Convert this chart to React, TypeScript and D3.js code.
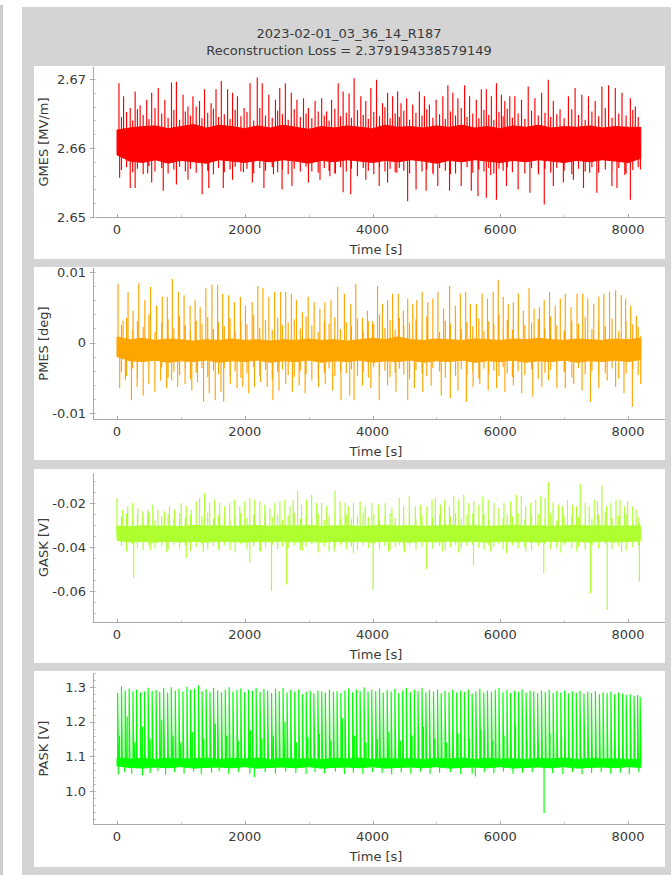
import React from 'react';
import * as d3 from 'd3';

// ---------------- DATA ----------------
const title = '2023-02-01_03_36_14_R187';
const subtitle = 'Reconstruction Loss = 2.379194338579149';
const xTicks = [0, 2000, 4000, 6000, 8000];
const xMinorTicks = [1000, 3000, 5000, 7000];
const xLabel = 'Time [s]';

// times of the smaller oscillations between the large excursions (shared by GMES, PMES, GASK)
const midTimes = [
  70,150,245,320,410,500,595,700,800,890,
  980,1070,1150,1240,1330,1420,1510,1590,1680,1770,
  1850,1940,2035,2140,2235,2325,2430,2515,2590,2680,
  2775,2870,2960,3050,3150,3245,3320,3410,3500,3590,
  3670,3765,3855,3935,4020,4110,4195,4275,4355,4420,
  4490,4580,4680,4775,4850,4945,5050,5140,5220,5300,
  5390,5480,5570,5665,5745,5820,5900,5980,6045,6110,
  6190,6280,6385,6490,6595,6700,6790,6885,7000,7120,
  7225,7330,7435,7540,7645,7750,7855,7970,8075,8160,
];

// GMES [MV/m]
const gmesTicks = [2.65, 2.66, 2.67];
const gmesUp: [number, number][] = [
  [31,2.6694],[103,2.6675],[207,2.6658],[284,2.6682],[362,2.6662],[465,2.6670],[543,2.6680],[646,2.6687],[749,2.6670],[853,2.6695],
  [930,2.6696],[1034,2.6677],[1111,2.6660],[1189,2.6675],[1292,2.6668],[1370,2.6685],[1473,2.6665],[1550,2.6685],[1633,2.6697],[1731,2.6685],
  [1809,2.6680],[1886,2.6675],[1990,2.6658],[2083,2.6694],[2196,2.6702],[2274,2.6694],[2377,2.6677],[2481,2.6670],[2548,2.6687],[2636,2.6694],
  [2729,2.6680],[2817,2.6670],[2920,2.6672],[2997,2.6658],[3101,2.6668],[3204,2.6672],[3282,2.6653],[3359,2.6670],[3463,2.6694],[3540,2.6682],
  [3633,2.6679],[3712,2.6701],[3817,2.6675],[3895,2.6668],[3974,2.6687],[4063,2.6699],[4157,2.6665],[4236,2.6680],[4315,2.6675],[4393,2.6682],
  [4446,2.6665],[4535,2.6672],[4629,2.6663],[4734,2.6682],[4813,2.6675],[4891,2.6663],[4996,2.6670],[5101,2.6675],[5180,2.6691],[5258,2.6680],
  [5337,2.6672],[5442,2.6691],[5520,2.6675],[5625,2.6670],[5704,2.6685],[5782,2.6685],[5861,2.6675],[5940,2.6694],[6018,2.6677],[6071,2.6668],
  [6149,2.6675],[6228,2.6675],[6333,2.6670],[6438,2.6689],[6543,2.6672],[6647,2.6680],[6752,2.6699],[6831,2.6668],[6936,2.6656],[7067,2.6675],
  [7172,2.6687],[7277,2.6677],[7381,2.6675],[7486,2.6668],[7591,2.6689],[7696,2.6691],[7801,2.6687],[7906,2.6680],[8037,2.6672],[8115,2.6660],
];
const gmesDown: [number, number][] = [
  [41,2.6557],[207,2.6542],[284,2.6542],[480,2.6563],[543,2.6550],[724,2.6538],[930,2.6547],[1111,2.6554],[1240,2.6565],[1333,2.6533],
  [1437,2.6542],[1664,2.6542],[1809,2.6554],[1980,2.6565],[2119,2.6550],[2300,2.6542],[2450,2.6562],[2584,2.6540],[2739,2.6545],[2997,2.6550],
  [3050,2.6566],[3178,2.6554],[3333,2.6559],[3420,2.6563],[3540,2.6536],[3659,2.6533],[3764,2.6559],[3895,2.6554],[4105,2.6545],[4236,2.6550],
  [4380,2.6564],[4550,2.6523],[4682,2.6540],[4839,2.6538],[4950,2.6562],[5022,2.6545],[5206,2.6538],[5300,2.6563],[5389,2.6545],[5547,2.6538],
  [5651,2.6530],[5782,2.6528],[5850,2.6561],[5940,2.6525],[6097,2.6545],[6280,2.6540],[6464,2.6535],[6600,2.6562],[6689,2.6518],[6831,2.6545],
  [6988,2.6550],[7146,2.6554],[7303,2.6542],[7400,2.6564],[7512,2.6535],[7748,2.6545],[7827,2.6542],[7950,2.6561],[8037,2.6525],[8194,2.6569],
];
const gmesMidHi = [
  2.6645,2.6652,2.6640,2.6656,2.6648,2.6642,2.6658,2.6650,2.6644,2.6655,
  2.6641,2.6653,2.6647,2.6660,2.6643,2.6651,2.6657,2.6645,2.6649,2.6642,
  2.6655,2.6646,2.6652,2.6640,2.6658,2.6647,2.6644,2.6654,2.6649,2.6641,
  2.6656,2.6645,2.6650,2.6643,2.6653,2.6647,2.6640,2.6657,2.6646,2.6651,
  2.6644,2.6655,2.6648,2.6642,2.6652,2.6646,2.6659,2.6643,2.6650,2.6645,
  2.6654,2.6641,2.6651,2.6647,2.6656,2.6644,2.6649,2.6642,2.6653,2.6647,
  2.6658,2.6645,2.6650,2.6643,2.6655,2.6648,2.6641,2.6652,2.6646,2.6657,
  2.6644,2.6650,2.6642,2.6654,2.6647,2.6651,2.6645,2.6649,2.6643,2.6656,
  2.6648,2.6641,2.6653,2.6646,2.6658,2.6644,2.6650,2.6647,2.6655,2.6645,
];
const gmesMidLo = [
  2.6568,2.6572,2.6565,2.6570,2.6562,2.6574,2.6566,2.6571,2.6563,2.6569,
  2.6573,2.6566,2.6570,2.6564,2.6572,2.6567,2.6562,2.6571,2.6565,2.6569,
  2.6573,2.6566,2.6570,2.6563,2.6571,2.6567,2.6572,2.6565,2.6569,2.6562,
  2.6570,2.6566,2.6573,2.6568,2.6564,2.6571,2.6567,2.6563,2.6572,2.6566,
  2.6570,2.6564,2.6571,2.6567,2.6562,2.6572,2.6566,2.6570,2.6565,2.6571,
  2.6567,2.6563,2.6572,2.6566,2.6569,2.6564,2.6571,2.6567,2.6562,2.6570,
  2.6566,2.6572,2.6564,2.6569,2.6566,2.6571,2.6563,2.6570,2.6567,2.6572,
  2.6565,2.6569,2.6563,2.6571,2.6566,2.6570,2.6564,2.6571,2.6567,2.6562,
  2.6570,2.6566,2.6572,2.6564,2.6569,2.6566,2.6571,2.6563,2.6568,2.6572,
];
const gmesBand: [number, number, number][] = [
  [0,2.6590,2.6626],[200,2.6581,2.6629],[400,2.6579,2.6631],[600,2.6583,2.6632],[800,2.6578,2.6628],[1000,2.6582,2.6631],[1200,2.6580,2.6634],[1400,2.6578,2.6629],[1600,2.6583,2.6633],[1800,2.6581,2.6631],
  [2000,2.6579,2.6628],[2200,2.6582,2.6632],[2400,2.6580,2.6629],[2600,2.6583,2.6633],[2800,2.6581,2.6630],[3000,2.6578,2.6627],[3200,2.6582,2.6631],[3400,2.6580,2.6629],[3600,2.6583,2.6632],[3800,2.6581,2.6630],
  [4000,2.6579,2.6628],[4200,2.6582,2.6633],[4400,2.6580,2.6630],[4600,2.6583,2.6631],[4800,2.6581,2.6629],[5000,2.6578,2.6632],[5200,2.6582,2.6630],[5400,2.6580,2.6633],[5600,2.6583,2.6629],[5800,2.6581,2.6631],
  [6000,2.6579,2.6628],[6200,2.6582,2.6632],[6400,2.6580,2.6630],[6600,2.6583,2.6633],[6800,2.6581,2.6629],[7000,2.6579,2.6631],[7200,2.6582,2.6630],[7400,2.6580,2.6632],[7600,2.6583,2.6629],[7800,2.6581,2.6631],
  [8000,2.6579,2.6630],[8200,2.6585,2.6630],
];

// PMES [deg]
const pmesTicks = [-0.01, 0, 0.01];
const pmesUp: [number, number][] = [
  [16,0.0083],[95,0.0031],[173,0.0072],[252,0.0045],[341,0.0084],[436,0.0060],[525,0.0079],[620,0.0052],[709,0.0065],[788,0.0065],
  [866,0.0090],[961,0.0072],[1050,0.0067],[1145,0.0052],[1223,0.0060],[1302,0.0050],[1391,0.0077],[1486,0.0082],[1575,0.0082],[1654,0.0069],
  [1748,0.0067],[1838,0.0057],[1932,0.0065],[2011,0.0052],[2116,0.0057],[2205,0.0080],[2284,0.0077],[2378,0.0065],[2468,0.0072],[2562,0.0072],
  [2641,0.0072],[2730,0.0069],[2809,0.0060],[2903,0.0043],[2993,0.0065],[3087,0.0057],[3176,0.0048],[3255,0.0057],[3350,0.0060],[3455,0.0079],
  [3560,0.0069],[3659,0.0055],[3738,0.0083],[3843,0.0035],[3921,0.0045],[4000,0.0030],[4079,0.0080],[4157,0.0055],[4236,0.0060],[4315,0.0069],
  [4404,0.0069],[4483,0.0045],[4551,0.0062],[4630,0.0055],[4693,0.0060],[4777,0.0072],[4866,0.0057],[4945,0.0062],[5024,0.0072],[5113,0.0048],
  [5207,0.0080],[5297,0.0052],[5375,0.0069],[5459,0.0072],[5533,0.0055],[5627,0.0055],[5716,0.0069],[5800,0.0062],[5890,0.0072],[5968,0.0089],
  [6047,0.0065],[6126,0.0055],[6205,0.0057],[6283,0.0069],[6362,0.0045],[6451,0.0077],[6530,0.0048],[6614,0.0050],[6688,0.0060],[6772,0.0072],
  [6861,0.0052],[6940,0.0062],[7018,0.0069],[7108,0.0050],[7202,0.0069],[7291,0.0069],[7370,0.0062],[7464,0.0055],[7543,0.0065],[7622,0.0069],
  [7711,0.0072],[7806,0.0074],[7895,0.0067],[7963,0.0062],[8042,0.0052],[8131,0.0038],[8199,0.0009],
];
const pmesDown: [number, number][] = [
  [42,-0.0065],[131,-0.0054],[226,-0.0082],[315,-0.0063],[410,-0.0075],[499,-0.0059],[593,-0.0070],[683,-0.0054],[777,-0.0065],[856,-0.0054],
  [950,-0.0063],[1066,-0.0059],[1171,-0.0068],[1260,-0.0056],[1355,-0.0084],[1444,-0.0072],[1538,-0.0082],[1628,-0.0070],[1670,-0.0084],[1775,-0.0059],
  [1880,-0.0065],[1969,-0.0063],[2063,-0.0072],[2153,-0.0063],[2247,-0.0056],[2352,-0.0063],[2441,-0.0082],[2536,-0.0068],[2641,-0.0059],[2746,-0.0070],
  [2851,-0.0061],[2945,-0.0072],[3050,-0.0054],[3155,-0.0063],[3260,-0.0059],[3376,-0.0068],[3507,-0.0082],[3643,-0.0075],[3711,-0.0082],[3843,-0.0061],
  [3974,-0.0065],[4105,-0.0082],[4236,-0.0061],[4367,-0.0070],[4551,-0.0082],[4656,-0.0065],[4787,-0.0070],[4919,-0.0061],[5076,-0.0075],[5218,-0.0079],
  [5338,-0.0068],[5470,-0.0084],[5575,-0.0063],[5680,-0.0059],[5811,-0.0068],[5942,-0.0065],[6073,-0.0070],[6205,-0.0061],[6336,-0.0072],[6509,-0.0077],
  [6651,-0.0063],[6756,-0.0054],[6887,-0.0065],[7018,-0.0065],[7150,-0.0059],[7281,-0.0068],[7412,-0.0084],[7543,-0.0065],[7674,-0.0054],[7806,-0.0063],
  [7937,-0.0072],[8068,-0.0091],[8199,-0.0059],
];
const pmesMidHi = [
  0.0025,0.0035,0.0018,0.0030,0.0022,0.0040,0.0015,0.0028,0.0033,0.0020,
  0.0038,0.0024,0.0017,0.0031,0.0027,0.0036,0.0019,0.0029,0.0023,0.0034,
  0.0016,0.0030,0.0026,0.0039,0.0021,0.0032,0.0018,0.0035,0.0025,0.0028,
  0.0033,0.0020,0.0037,0.0024,0.0015,0.0031,0.0027,0.0036,0.0019,0.0029,
  0.0023,0.0034,0.0016,0.0030,0.0026,0.0040,0.0021,0.0032,0.0018,0.0035,
  0.0025,0.0028,0.0033,0.0020,0.0037,0.0024,0.0015,0.0031,0.0027,0.0036,
  0.0019,0.0029,0.0023,0.0034,0.0016,0.0030,0.0026,0.0039,0.0021,0.0032,
  0.0018,0.0035,0.0025,0.0028,0.0033,0.0020,0.0037,0.0024,0.0017,0.0031,
  0.0027,0.0036,0.0019,0.0029,0.0023,0.0034,0.0016,0.0030,0.0026,0.0022,
];
const pmesMidLo = [
  -0.0042,-0.0048,-0.0037,-0.0051,-0.0044,-0.0039,-0.0047,-0.0035,-0.0050,-0.0041,
  -0.0046,-0.0038,-0.0052,-0.0043,-0.0036,-0.0049,-0.0040,-0.0045,-0.0037,-0.0048,
  -0.0041,-0.0050,-0.0044,-0.0035,-0.0047,-0.0039,-0.0052,-0.0042,-0.0038,-0.0046,
  -0.0049,-0.0040,-0.0045,-0.0036,-0.0051,-0.0043,-0.0037,-0.0048,-0.0041,-0.0044,
  -0.0038,-0.0047,-0.0042,-0.0050,-0.0035,-0.0046,-0.0040,-0.0049,-0.0043,-0.0037,
  -0.0045,-0.0052,-0.0039,-0.0044,-0.0048,-0.0036,-0.0041,-0.0050,-0.0042,-0.0047,
  -0.0038,-0.0046,-0.0043,-0.0051,-0.0037,-0.0045,-0.0040,-0.0048,-0.0035,-0.0044,
  -0.0049,-0.0041,-0.0046,-0.0038,-0.0052,-0.0043,-0.0039,-0.0047,-0.0042,-0.0050,
  -0.0036,-0.0045,-0.0040,-0.0048,-0.0043,-0.0037,-0.0051,-0.0044,-0.0039,-0.0046,
];
const pmesBand: [number, number, number][] = [
  [0,-0.0020,0.0008],[200,-0.0026,0.0004],[400,-0.0027,0.0006],[600,-0.0025,0.0003],[800,-0.0028,0.0005],[1000,-0.0026,0.0004],[1200,-0.0027,0.0002],[1400,-0.0025,0.0004],[1600,-0.0028,0.0003],[1800,-0.0026,0.0005],
  [2000,-0.0027,0.0003],[2200,-0.0025,0.0004],[2400,-0.0028,0.0002],[2600,-0.0026,0.0004],[2800,-0.0027,0.0003],[3000,-0.0025,0.0005],[3200,-0.0028,0.0003],[3400,-0.0026,0.0004],[3600,-0.0027,0.0002],[3800,-0.0025,0.0004],
  [4000,-0.0028,0.0006],[4200,-0.0026,0.0004],[4400,-0.0027,0.0008],[4600,-0.0025,0.0004],[4800,-0.0028,0.0003],[5000,-0.0026,0.0005],[5200,-0.0027,0.0004],[5400,-0.0025,0.0003],[5600,-0.0028,0.0005],[5800,-0.0026,0.0004],
  [6000,-0.0027,0.0003],[6200,-0.0025,0.0005],[6400,-0.0028,0.0004],[6600,-0.0026,0.0006],[6800,-0.0027,0.0004],[7000,-0.0025,0.0003],[7200,-0.0028,0.0005],[7400,-0.0026,0.0004],[7600,-0.0027,0.0003],[7800,-0.0025,0.0005],
  [8000,-0.0027,0.0004],[8200,-0.0024,0.0006],
];

// GASK [V]
const gaskTicks = [-0.06, -0.04, -0.02];
const gaskUp: [number, number][] = [
  [0,-0.0177],[89,-0.0231],[168,-0.0215],[246,-0.0200],[325,-0.0223],[403,-0.0238],[482,-0.0231],[560,-0.0208],[639,-0.0231],[744,-0.0238],
  [822,-0.0215],[901,-0.0231],[1005,-0.0200],[1084,-0.0215],[1162,-0.0231],[1241,-0.0192],[1293,-0.0177],[1372,-0.0154],[1450,-0.0200],[1529,-0.0185],
  [1607,-0.0200],[1686,-0.0215],[1764,-0.0200],[1843,-0.0185],[1922,-0.0215],[2000,-0.0192],[2079,-0.0177],[2157,-0.0185],[2236,-0.0192],[2314,-0.0208],
  [2393,-0.0223],[2471,-0.0200],[2550,-0.0192],[2628,-0.0185],[2707,-0.0215],[2759,-0.0185],[2827,-0.0146],[2890,-0.0208],[2969,-0.0185],[3047,-0.0162],
  [3126,-0.0200],[3204,-0.0200],[3283,-0.0215],[3414,-0.0146],[3492,-0.0192],[3571,-0.0200],
  [3623,-0.0215],[3702,-0.0200],[3806,-0.0192],[3885,-0.0215],[3990,-0.0200],[4094,-0.0208],[4199,-0.0200],[4304,-0.0223],[4419,-0.0177],[4487,-0.0215],
  [4576,-0.0169],[4670,-0.0215],[4749,-0.0208],[4853,-0.0215],[4932,-0.0185],[4984,-0.0177],[5063,-0.0208],[5131,-0.0185],[5204,-0.0215],[5272,-0.0169],
  [5351,-0.0185],[5429,-0.0162],[5508,-0.0200],[5587,-0.0192],[5665,-0.0208],[5728,-0.0169],[5812,-0.0185],[5901,-0.0200],[5979,-0.0223],[6058,-0.0200],
  [6163,-0.0192],[6251,-0.0162],[6330,-0.0169],[6398,-0.0215],[6477,-0.0200],[6555,-0.0185],[6634,-0.0169],[6702,-0.0177],[6754,-0.0105],[6827,-0.0200],
  [6911,-0.0208],[6974,-0.0215],[7053,-0.0185],[7131,-0.0208],[7194,-0.0215],[7252,-0.0111],[7330,-0.0200],[7393,-0.0215],[7472,-0.0185],[7524,-0.0192],
  [7592,-0.0120],[7665,-0.0215],[7733,-0.0200],[7812,-0.0185],[7875,-0.0185],[7943,-0.0215],[7995,-0.0192],[8074,-0.0215],[8126,-0.0231],[8178,-0.0292],
];
const gaskDown: [number, number][] = [
  [150,-0.0420],[262,-0.0540],[520,-0.0415],[780,-0.0425],[1084,-0.0450],[1350,-0.0420],[1600,-0.0418],[1850,-0.0425],[2079,-0.0470],[2250,-0.0420],
  [2419,-0.0600],[2654,-0.0570],[2900,-0.0418],[3150,-0.0425],[3400,-0.0420],[3700,-0.0430],[4010,-0.0595],[4250,-0.0420],[4500,-0.0425],[4848,-0.0500],
  [5100,-0.0420],[5350,-0.0425],[5581,-0.0485],[5850,-0.0420],[6100,-0.0428],[6400,-0.0420],[6681,-0.0518],[6950,-0.0425],[7200,-0.0420],[7414,-0.0610],
  [7675,-0.0686],[7900,-0.0425],[8178,-0.0558],
];
const gaskMidHi = [
  -0.0262,-0.0248,-0.0275,-0.0255,-0.0268,-0.0244,-0.0280,-0.0258,-0.0250,-0.0271,
  -0.0246,-0.0265,-0.0252,-0.0278,-0.0260,-0.0243,-0.0270,-0.0256,-0.0249,-0.0274,
  -0.0259,-0.0245,-0.0267,-0.0253,-0.0282,-0.0247,-0.0263,-0.0251,-0.0276,-0.0257,
  -0.0244,-0.0269,-0.0254,-0.0261,-0.0248,-0.0277,-0.0258,-0.0242,-0.0266,-0.0252,
  -0.0273,-0.0256,-0.0247,-0.0264,-0.0250,-0.0279,-0.0259,-0.0245,-0.0268,-0.0254,
  -0.0262,-0.0249,-0.0275,-0.0257,-0.0243,-0.0266,-0.0252,-0.0280,-0.0260,-0.0246,
  -0.0271,-0.0255,-0.0248,-0.0265,-0.0251,-0.0277,-0.0258,-0.0244,-0.0269,-0.0253,
  -0.0261,-0.0247,-0.0274,-0.0256,-0.0250,-0.0267,-0.0245,-0.0279,-0.0259,-0.0252,
  -0.0264,-0.0248,-0.0272,-0.0255,-0.0243,-0.0268,-0.0257,-0.0250,-0.0276,-0.0262,
];
const gaskMidLo = [
  -0.0395,-0.0410,-0.0388,-0.0402,-0.0415,-0.0392,-0.0405,-0.0398,-0.0412,-0.0390,
  -0.0407,-0.0394,-0.0418,-0.0400,-0.0389,-0.0411,-0.0397,-0.0404,-0.0392,-0.0414,
  -0.0399,-0.0387,-0.0408,-0.0395,-0.0416,-0.0402,-0.0391,-0.0410,-0.0397,-0.0405,
  -0.0393,-0.0412,-0.0400,-0.0388,-0.0406,-0.0396,-0.0419,-0.0401,-0.0390,-0.0409,
  -0.0398,-0.0413,-0.0392,-0.0404,-0.0387,-0.0410,-0.0396,-0.0415,-0.0400,-0.0391,
  -0.0406,-0.0394,-0.0411,-0.0399,-0.0388,-0.0408,-0.0395,-0.0417,-0.0402,-0.0390,
  -0.0409,-0.0397,-0.0389,-0.0405,-0.0414,-0.0393,-0.0401,-0.0386,-0.0410,-0.0398,
  -0.0392,-0.0407,-0.0400,-0.0415,-0.0395,-0.0388,-0.0411,-0.0403,-0.0391,-0.0406,
  -0.0399,-0.0412,-0.0394,-0.0404,-0.0389,-0.0408,-0.0396,-0.0416,-0.0401,-0.0393,
];
const gaskBand: [number, number, number][] = [
  [0,-0.0370,-0.0305],[200,-0.0377,-0.0308],[400,-0.0375,-0.0303],[600,-0.0378,-0.0306],[800,-0.0374,-0.0304],[1000,-0.0377,-0.0307],[1200,-0.0375,-0.0302],[1400,-0.0378,-0.0305],[1600,-0.0374,-0.0303],[1800,-0.0376,-0.0306],
  [2000,-0.0378,-0.0304],[2200,-0.0375,-0.0302],[2400,-0.0377,-0.0306],[2600,-0.0374,-0.0303],[2800,-0.0377,-0.0305],[3000,-0.0375,-0.0302],[3200,-0.0378,-0.0306],[3400,-0.0374,-0.0304],[3600,-0.0377,-0.0303],[3800,-0.0375,-0.0306],
  [4000,-0.0378,-0.0304],[4200,-0.0374,-0.0302],[4400,-0.0376,-0.0305],[4600,-0.0378,-0.0303],[4800,-0.0375,-0.0306],[5000,-0.0377,-0.0304],[5200,-0.0374,-0.0302],[5400,-0.0377,-0.0305],[5600,-0.0375,-0.0303],[5800,-0.0378,-0.0306],
  [6000,-0.0374,-0.0304],[6200,-0.0377,-0.0302],[6400,-0.0375,-0.0305],[6600,-0.0378,-0.0303],[6800,-0.0374,-0.0306],[7000,-0.0377,-0.0304],[7200,-0.0375,-0.0302],[7400,-0.0378,-0.0305],[7600,-0.0374,-0.0303],[7800,-0.0377,-0.0306],
  [8000,-0.0375,-0.0304],[8200,-0.0372,-0.0306],
];

// PASK [V]
const paskTicks = [1.0, 1.1, 1.2, 1.3];
const paskUp: [number, number][] = [
  [10,1.283],[70,1.302],[128,1.290],[190,1.296],[250,1.288],[305,1.293],[368,1.285],[430,1.287],[488,1.298],[550,1.289],
  [612,1.291],[668,1.286],[730,1.297],[792,1.284],[850,1.299],[912,1.290],[970,1.295],[1032,1.287],[1095,1.301],[1150,1.292],
  [1212,1.296],[1275,1.305],[1332,1.288],[1395,1.294],[1455,1.286],[1512,1.297],[1575,1.290],[1636,1.284],[1695,1.293],[1756,1.299],
  [1815,1.287],[1878,1.291],[1938,1.296],[1995,1.285],[2058,1.292],[2120,1.289],[2178,1.298],[2240,1.286],[2300,1.294],[2358,1.290],
  [2420,1.283],[2482,1.295],[2540,1.288],[2600,1.297],[2662,1.284],[2720,1.291],[2782,1.287],[2845,1.293],[2902,1.280],[2962,1.286],
  [3025,1.289],[3082,1.282],[3145,1.290],[3205,1.287],[3262,1.284],[3325,1.292],[3388,1.286],[3445,1.288],[3505,1.283],[3568,1.290],
  [3625,1.296],[3688,1.285],[3748,1.293],[3806,1.289],[3868,1.299],[3930,1.286],[3988,1.292],[4050,1.288],[4110,1.296],[4168,1.284],
  [4230,1.291],[4292,1.287],[4350,1.294],[4410,1.283],[4472,1.290],[4530,1.297],[4592,1.286],[4655,1.292],[4712,1.288],[4775,1.298],
  [4835,1.285],[4892,1.291],[4955,1.287],[5018,1.293],[5075,1.282],[5135,1.289],[5198,1.285],[5255,1.292],[5318,1.284],[5380,1.290],
  [5438,1.286],[5500,1.293],[5560,1.281],[5618,1.288],[5680,1.295],[5742,1.284],[5800,1.290],[5862,1.286],[5922,1.292],[5980,1.297],
  [6042,1.285],[6105,1.291],[6162,1.283],[6225,1.289],[6285,1.286],[6342,1.293],[6405,1.284],[6466,1.290],[6524,1.287],[6585,1.282],
  [6646,1.289],[6705,1.285],[6766,1.291],[6828,1.283],[6885,1.288],[6948,1.284],[7008,1.290],[7066,1.282],[7128,1.287],[7190,1.284],
  [7248,1.289],[7310,1.281],[7370,1.286],[7428,1.283],[7490,1.288],[7552,1.280],[7610,1.285],[7672,1.282],[7732,1.287],[7790,1.279],
  [7852,1.284],[7915,1.281],[7972,1.277],[8035,1.279],[8095,1.275],[8150,1.277],[8190,1.272],
];
const paskMid: [number, number][] = [
  [40,1.160],[160,1.215],[280,1.140],[400,1.185],[520,1.150],[700,1.205],[880,1.160],[1000,1.140],[1180,1.170],[1360,1.150],
  [1540,1.195],[1720,1.160],[1900,1.145],[2090,1.175],[2270,1.150],[2450,1.160],[2630,1.200],[2810,1.140],[2990,1.155],[3170,1.165],
  [3350,1.145],[3530,1.210],[3720,1.160],[3900,1.140],[4080,1.150],[4260,1.170],[4440,1.145],[4620,1.160],[4800,1.185],[4980,1.150],
  [5160,1.140],[5340,1.165],[5520,1.150],[5700,1.175],[5880,1.145],[6060,1.160],[6240,1.190],[6420,1.150],[6600,1.140],[6780,1.165],
  [6960,1.150],[7140,1.175],[7320,1.145],[7500,1.160],[7680,1.150],[7860,1.170],[8040,1.145],
];
const paskDown: [number, number][] = [
  [20,1.048],[120,1.055],[230,1.050],[400,1.045],[520,1.052],[640,1.058],[760,1.047],[900,1.055],[1050,1.050],[1200,1.056],
  [1320,1.048],[1480,1.053],[1600,1.057],[1750,1.049],[1900,1.055],[2080,1.050],[2150,1.040],[2320,1.054],[2480,1.050],[2640,1.056],
  [2800,1.052],[2960,1.049],[3100,1.055],[3250,1.051],[3420,1.056],[3560,1.049],[3700,1.053],[3850,1.050],[4000,1.055],[4150,1.052],
  [4300,1.048],[4450,1.054],[4600,1.050],[4750,1.056],[4900,1.050],[5050,1.053],[5220,1.055],[5380,1.049],[5560,1.050],[5610,1.042],
  [5750,1.054],[5900,1.051],[6050,1.056],[6200,1.050],[6350,1.053],[6500,1.055],[6686,0.9365],[6820,1.052],[6980,1.049],[7130,1.055],
  [7280,1.048],[7430,1.052],[7580,1.055],[7730,1.050],[7880,1.053],[8020,1.049],[8170,1.054],
];
const paskBand: [number, number, number][] = [
  [0,1.072,1.095],[200,1.068,1.092],[400,1.066,1.094],[600,1.069,1.091],[800,1.067,1.095],[1000,1.070,1.092],[1200,1.066,1.093],[1400,1.068,1.095],[1600,1.069,1.091],[1800,1.067,1.094],
  [2000,1.070,1.092],[2200,1.066,1.095],[2400,1.068,1.091],[2600,1.069,1.094],[2800,1.067,1.092],[3000,1.070,1.093],[3200,1.066,1.091],[3400,1.068,1.094],[3600,1.069,1.092],[3800,1.067,1.095],
  [4000,1.070,1.091],[4200,1.066,1.094],[4400,1.068,1.092],[4600,1.069,1.093],[4800,1.067,1.091],[5000,1.070,1.094],[5200,1.066,1.092],[5400,1.068,1.095],[5600,1.069,1.091],[5800,1.067,1.094],
  [6000,1.070,1.092],[6200,1.066,1.093],[6400,1.068,1.091],[6600,1.069,1.094],[6800,1.067,1.092],[7000,1.070,1.095],[7200,1.066,1.091],[7400,1.068,1.094],[7600,1.069,1.092],[7800,1.067,1.093],
  [8000,1.070,1.091],[8200,1.068,1.092],
];

// ---------------- LAYOUT ----------------
type Spike = [number, number];
type PanelCfg = {
  label: string;
  color: string;
  ticks: number[];
  fmt: (v: number) => string;
  refVals: [number, number];
  refPix: [number, number];
  box: [number, number];
  plot: [number, number];
  minorStep: number;
  band: [number, number, number][];
  spikes: Spike[][];
  pulses?: Spike[];
  midHi?: number[];
  midLo?: number[];
};

const PLOT_L = 93;
const PLOT_R = 665;
const BOX_L = 34;
const BOX_R = 665;
const TEXT = '#3a3a3a';
const AXIS = '#a8a8a8';
const FONT = 'DejaVu Sans, Verdana, sans-serif';
const PULSE_WIDTH = 14; // seconds

const panels: PanelCfg[] = [
  {
    label: 'GMES [MV/m]', color: '#ff0000', ticks: gmesTicks, fmt: (v) => v.toFixed(2),
    refVals: [2.65, 2.67], refPix: [217, 79], box: [66, 259], plot: [67, 217], minorStep: 0.002,
    band: gmesBand, spikes: [gmesUp, gmesDown], midHi: gmesMidHi, midLo: gmesMidLo,
  },
  {
    label: 'PMES [deg]', color: '#ffa500', ticks: pmesTicks, fmt: (v) => (v === 0 ? '0' : v.toFixed(2)),
    refVals: [-0.01, 0.01], refPix: [413, 272], box: [267, 460], plot: [268, 419], minorStep: 0.002,
    band: pmesBand, spikes: [pmesUp, pmesDown], midHi: pmesMidHi, midLo: pmesMidLo,
  },
  {
    label: 'GASK [V]', color: '#adff2f', ticks: gaskTicks, fmt: (v) => v.toFixed(2),
    refVals: [-0.06, -0.02], refPix: [591, 503], box: [469, 663], plot: [473, 622], minorStep: 0.005,
    band: gaskBand, spikes: [gaskUp, gaskDown], midHi: gaskMidHi, midLo: gaskMidLo,
  },
  {
    label: 'PASK [V]', color: '#00ff00', ticks: paskTicks, fmt: (v) => v.toFixed(1),
    refVals: [1.0, 1.3], refPix: [791, 687], box: [671, 867], plot: [673, 824], minorStep: 0.02,
    band: paskBand, spikes: [paskMid, paskDown], pulses: paskUp,
  },
];

const x = d3.scaleLinear().domain([0, 8000]).range([117, 628]);

function Panel({ cfg, idx }: { cfg: PanelCfg; idx: number }) {
  const y = d3.scaleLinear().domain(cfg.refVals).range(cfg.refPix);
  const [pt, pb] = cfg.plot;
  const base = d3.mean(cfg.band, (d) => (d[1] + d[2]) / 2) as number;
  const area = d3
    .area<[number, number, number]>()
    .x((d) => x(d[0]))
    .y0((d) => y(d[1]))
    .y1((d) => y(d[2]));
  const f = (n: number) => n.toFixed(2);
  let path = cfg.spikes
    .flat()
    .map((s) => `M${f(x(s[0]))},${f(y(base))}V${f(y(s[1]))}`)
    .join('');
  if (cfg.midHi && cfg.midLo) {
    path += midTimes
      .map((t, i) => `M${f(x(t))},${f(y(cfg.midLo![i]))}V${f(y(cfg.midHi![i]))}`)
      .join('');
  }
  if (cfg.pulses) {
    path += cfg.pulses
      .map((s) => `M${f(x(s[0]))},${f(y(base))}V${f(y(s[1]))}L${f(x(s[0] + PULSE_WIDTH))},${f(y(base))}`)
      .join('');
  }
  const [dMin, dMax] = [y.invert(pb), y.invert(pt)];
  const minor = d3.range(Math.ceil(dMin / cfg.minorStep) * cfg.minorStep, dMax, cfg.minorStep);
  const clipId = `clip${idx}`;
  const midY = (pt + pb) / 2;
  return (
    <g>
      <rect x={BOX_L} y={cfg.box[0]} width={BOX_R - BOX_L} height={cfg.box[1] - cfg.box[0]} fill="#ffffff" />
      <clipPath id={clipId}>
        <rect x={PLOT_L} y={pt} width={PLOT_R - PLOT_L} height={pb - pt} />
      </clipPath>
      <g clipPath={`url(#${clipId})`}>
        <path d={area(cfg.band) || ''} fill={cfg.color} stroke={cfg.color} strokeWidth={1} />
        <path d={path} stroke={cfg.color} strokeWidth={1.15} fill="none" strokeLinejoin="miter" />
      </g>
      <line x1={PLOT_L + 0.5} x2={PLOT_L + 0.5} y1={pt} y2={pb} stroke={AXIS} strokeWidth={1} />
      <line x1={PLOT_L} x2={PLOT_R} y1={pb + 0.5} y2={pb + 0.5} stroke={AXIS} strokeWidth={1} />
      {minor.map((v, i) => (
        <line key={'m' + i} x1={PLOT_L + 1} x2={PLOT_L + 3} y1={Math.round(y(v)) + 0.5} y2={Math.round(y(v)) + 0.5} stroke="#c8c8c8" strokeWidth={1} />
      ))}
      {cfg.ticks.map((v, i) => (
        <g key={'t' + i}>
          <line x1={PLOT_L - 3} x2={PLOT_L} y1={Math.round(y(v)) + 0.5} y2={Math.round(y(v)) + 0.5} stroke={AXIS} strokeWidth={1} />
          <text x={86} y={y(v) + 4.5} textAnchor="end" fontSize={13} fill={TEXT}>
            {cfg.fmt(v)}
          </text>
        </g>
      ))}
      {xMinorTicks.map((t, i) => (
        <line key={'xm' + i} x1={Math.round(x(t)) + 0.5} x2={Math.round(x(t)) + 0.5} y1={pb - 2} y2={pb} stroke="#c8c8c8" strokeWidth={1} />
      ))}
      {xTicks.map((t, i) => (
        <g key={'x' + i}>
          <line x1={Math.round(x(t)) + 0.5} x2={Math.round(x(t)) + 0.5} y1={pb - 3} y2={pb + 1} stroke={AXIS} strokeWidth={1} />
          <text x={x(t)} y={pb + 16.5} textAnchor="middle" fontSize={13} fill={TEXT}>
            {String(t)}
          </text>
        </g>
      ))}
      <text x={376} y={pb + 37} textAnchor="middle" fontSize={13} fill={TEXT}>
        {xLabel}
      </text>
      <text transform={`translate(48,${midY}) rotate(-90)`} textAnchor="middle" fontSize={13} fill={TEXT}>
        {cfg.label}
      </text>
    </g>
  );
}

export default function App() {
  return (
    <div style={{ position: 'absolute', left: 0, top: 0 }}>
      <svg width={671} height={875} style={{ display: 'block' }} fontFamily={FONT}>
        <rect x={0} y={0} width={671} height={875} fill="#ffffff" />
        <rect x={0} y={5} width={3} height={870} fill="#cdcdcd" />
        <rect x={22} y={7} width={649} height={868} fill="#d4d4d4" />
        <text x={349} y={38} textAnchor="middle" fontSize={13} fill={TEXT}>
          {title}
        </text>
        <text x={349} y={55} textAnchor="middle" fontSize={13} fill={TEXT}>
          {subtitle}
        </text>
        {panels.map((p, i) => (
          <Panel key={i} cfg={p} idx={i} />
        ))}
      </svg>
    </div>
  );
}
